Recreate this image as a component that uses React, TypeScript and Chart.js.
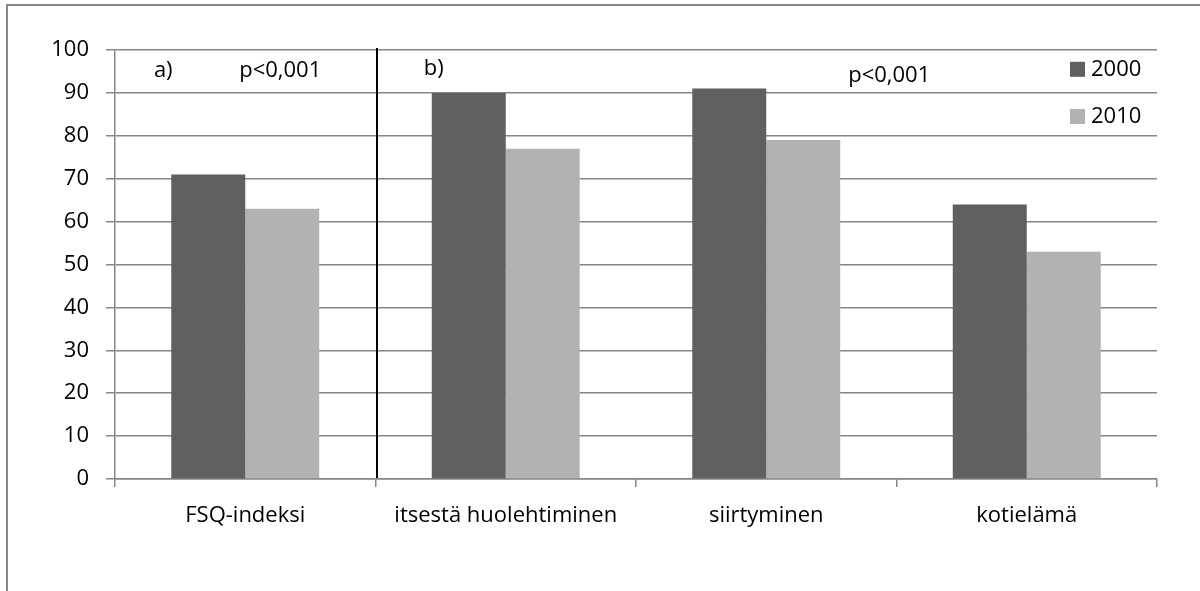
import React, { useEffect, useRef } from "react";
import { Chart, registerables } from "chart.js";

Chart.register(...registerables);

const categories = ["FSQ-indeksi", "itsestä huolehtiminen", "siirtyminen", "kotielämä"];
const series2000 = [71, 90, 91, 64];
const series2010 = [63, 77, 79, 53];
const seriesLabels = ["2000", "2010"];
const seriesColors = ["#606060", "#b2b2b2"];
const yTicks = [0, 10, 20, 30, 40, 50, 60, 70, 80, 90, 100];
const annotations = [
  { text: "a)", cat: 0, dx: -82, y: 95.2 },
  { text: "p<0,001", cat: 0, dx: 35, y: 95.2 },
  { text: "b)", cat: 1, dx: -72, y: 95.6 },
  { text: "p<0,001", cat: 2, dx: 123, y: 94 },
];

const FONT = "'Open Sans', Lato, sans-serif";
const FSIZE = 22;

const decorPlugin = {
  id: "decor",
  afterDraw(chart: any) {
    const { ctx, chartArea, scales } = chart;
    const x = scales.x;
    const y = scales.y;
    ctx.save();
    // outer frame
    ctx.strokeStyle = "#878787";
    ctx.lineWidth = 2;
    ctx.beginPath();
    ctx.moveTo(7, 591);
    ctx.lineTo(7, 5);
    ctx.lineTo(1200, 5);
    ctx.stroke();
    // separator line between a) and b)
    const sepX = (x.getPixelForValue(0) + x.getPixelForValue(1)) / 2 + 1.5;
    ctx.strokeStyle = "#000000";
    ctx.lineWidth = 2;
    ctx.beginPath();
    ctx.moveTo(sepX, chartArea.top - 2);
    ctx.lineTo(sepX, chartArea.bottom - 1);
    ctx.stroke();
    // annotations
    ctx.fillStyle = "#000000";
    ctx.font = `${FSIZE}px ${FONT}`;
    ctx.textAlign = "center";
    ctx.textBaseline = "middle";
    annotations.forEach((a) => {
      ctx.fillText(a.text, x.getPixelForValue(a.cat) + a.dx, y.getPixelForValue(a.y));
    });
    // legend
    ctx.textAlign = "left";
    ctx.textBaseline = "middle";
    chart.data.datasets.forEach((ds: any, i: number) => {
      const cy = y.getPixelForValue(95.5 - i * 11);
      const sx = chartArea.right - 87;
      ctx.fillStyle = ds.backgroundColor;
      ctx.fillRect(sx, cy - 7.5, 15, 15);
      ctx.fillStyle = "#000000";
      ctx.fillText(ds.label, sx + 21, cy);
    });
    ctx.restore();
  },
};

export default function App() {
  const ref = useRef<HTMLCanvasElement>(null);
  useEffect(() => {
    document.body.style.margin = "0";
    const chart = new Chart(ref.current as HTMLCanvasElement, {
      type: "bar",
      data: {
        labels: categories,
        datasets: [
          { label: seriesLabels[0], data: series2000, backgroundColor: seriesColors[0] },
          { label: seriesLabels[1], data: series2010, backgroundColor: seriesColors[1] },
        ],
      },
      options: {
        animation: false,
        responsive: false,
        devicePixelRatio: 1,
        layout: { padding: { left: 10, top: 50, right: 43, bottom: 0 } },
        datasets: { bar: { barPercentage: 1, categoryPercentage: 0.568 } },
        plugins: { legend: { display: false }, tooltip: { enabled: false } },
        scales: {
          x: {
            offset: true,
            grid: {
              offset: true,
              drawOnChartArea: false,
              drawTicks: true,
              tickLength: 8,
              color: "#868686",
              lineWidth: 1.5,
            },
            border: { color: "#868686", width: 1.5 },
            ticks: { color: "#000000", font: { family: FONT, size: FSIZE }, padding: 16, maxRotation: 0 },
            afterFit: (s: any) => {
              s.height = 112;
            },
          },
          y: {
            min: 0,
            max: 100,
            afterBuildTicks: (s: any) => {
              s.ticks = yTicks.map((v) => ({ value: v }));
            },
            grid: { color: "#868686", lineWidth: 1.5, tickLength: 9 },
            border: { color: "#868686", width: 1.5 },
            ticks: { color: "#000000", font: { family: FONT, size: FSIZE }, padding: 17 },
            afterFit: (s: any) => {
              s.width = 105;
            },
          },
        },
      },
      plugins: [decorPlugin],
    });
    return () => chart.destroy();
  }, []);
  return <canvas ref={ref} width={1200} height={591} style={{ display: "block" }} />;
}
